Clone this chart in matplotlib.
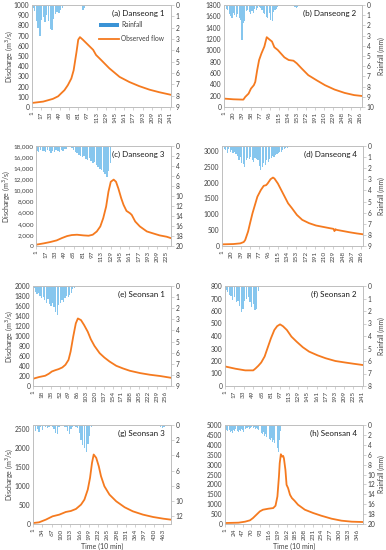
import matplotlib.pyplot as plt
from matplotlib.patches import Patch
from matplotlib.lines import Line2D

plt.rcParams["font.family"] = ["Lato", "DejaVu Sans"]

FLOW = "#F57A1F"
RAIN = "#86C6EE"
FRAME = "#BFBFBF"
TXT = "#404040"

# ---- discharge (time index, m3/s) ----
t_a = [1, 20, 37, 46, 52, 57, 63, 69, 73, 78, 81, 84, 89, 98, 107, 112, 121, 135, 153, 170, 187, 205, 222, 242]
q_a = [40, 53, 80, 105, 138, 165, 215, 280, 360, 540, 660, 685, 660, 610, 560, 510, 460, 380, 295, 245, 205, 170, 145, 120]

t_b = [1, 20, 41, 45, 52, 57, 63, 66, 70, 74, 79, 85, 90, 95, 101, 106, 113, 118, 127, 136, 146, 153, 163, 177, 194, 212, 232, 253, 273, 289]
q_b = [148, 136, 130, 178, 237, 325, 385, 444, 651, 829, 947, 1066, 1232, 1196, 1155, 1054, 1007, 960, 876, 829, 817, 770, 681, 562, 474, 385, 308, 249, 210, 195]

t_c = [1, 14, 25, 36, 45, 54, 62, 71, 82, 91, 98, 105, 111, 116, 121, 125, 129, 134, 138, 142, 147, 151, 156, 162, 165, 171, 179, 191, 202, 213, 225, 232]
q_c = [240, 480, 715, 1010, 1430, 1790, 1970, 2030, 1910, 1850, 2030, 2620, 3520, 5000, 7090, 9770, 11560, 11950, 11560, 10370, 8580, 7390, 6320, 5900, 5600, 4410, 3520, 2620, 2260, 1910, 1670, 1430]

t_d = [1, 24, 38, 45, 48, 54, 58, 63, 68, 73, 80, 86, 91, 94, 100, 105, 108, 115, 122, 129, 136, 144, 154, 165, 179, 193, 207, 221, 229, 231, 233, 235, 249, 263, 277, 289]
q_d = [52, 62, 83, 125, 187, 458, 719, 1031, 1292, 1552, 1760, 1896, 1917, 1969, 2104, 2156, 2125, 1969, 1760, 1552, 1344, 1188, 979, 823, 719, 646, 604, 562, 540, 470, 530, 510, 470, 430, 395, 370]

t_e = [1, 12, 24, 31, 37, 44, 50, 57, 63, 69, 73, 78, 83, 87, 93, 99, 106, 112, 119, 129, 138, 148, 161, 174, 187, 207, 226, 246, 266]
q_e = [146, 179, 205, 245, 291, 318, 338, 371, 424, 523, 689, 987, 1252, 1351, 1318, 1219, 1086, 934, 801, 656, 570, 490, 404, 351, 305, 258, 225, 199, 165]

t_f = [1, 19, 36, 50, 54, 59, 64, 70, 75, 81, 87, 92, 97, 102, 109, 117, 126, 137, 148, 163, 177, 194, 211, 226, 242]
q_f = [156, 138, 125, 125, 140, 162, 188, 236, 302, 381, 448, 479, 493, 479, 448, 395, 355, 310, 275, 245, 222, 200, 188, 178, 168]

t_g = [1, 22, 46, 70, 94, 117, 135, 153, 171, 183, 195, 203, 210, 216, 225, 234, 242, 254, 272, 296, 326, 355, 391, 427, 463, 490]
q_g = [26, 44, 114, 202, 246, 316, 342, 395, 509, 640, 904, 1211, 1605, 1825, 1737, 1518, 1254, 991, 772, 596, 439, 333, 246, 184, 140, 114]

t_h = [1, 36, 53, 66, 74, 83, 92, 100, 114, 127, 133, 138, 142, 144, 147, 150, 153, 155, 159, 162, 166, 171, 176, 183, 192, 210, 232, 253, 280, 306, 333, 362]
q_h = [50, 67, 117, 185, 302, 470, 638, 721, 772, 805, 923, 1393, 2399, 3070, 3523, 3406, 3440, 3322, 2735, 1980, 1812, 1477, 1309, 1174, 973, 721, 554, 419, 268, 168, 117, 100]

# ---- rainfall (mm), sampled every few time steps ----
rt_a = list(range(1, 92, 3))
r_a = [0.3, 0.5, 1.4, 2.0, 2.7, 1.3, 1.1, 1.5, 0.9, 1.4, 2.1, 2.2, 1.2, 0.8, 0.6, 0.7, 0.4, 0.3, 0.1,
       0, 0, 0, 0, 0, 0, 0, 0, 0, 0, 0.4, 0.3]

rt_b = list(range(1, 113, 3)) + [148, 151, 154]
r_b = [0.2, 0.4, 0.5, 0.9, 1.1, 1.3, 0.8, 1.0, 1.2, 0.9, 1.3, 1.5, 3.4, 1.8, 1.6, 0.6, 0.5, 0.7, 0.9,
       0.6, 0.8, 0.4, 0.5, 0.3, 0.2, 0.3, 0.5, 0.8, 0.9, 1.2, 1.3, 0.8, 1.5, 1.6, 0.7, 0.5, 0.4, 0.2,
       0.2, 0.3, 0.2]

rt_c = list(range(1, 128, 3))
r_c = [1.0, 1.2, 0.8, 1.1, 1.0, 1.3, 0.9, 1.1, 1.4, 1.0, 1.2, 0.8, 1.0, 1.3, 0.9, 1.1, 0.7, 0.6, 0.3,
       0.2, 0.4, 0.8, 1.2, 1.5, 1.8, 2.0, 2.2, 2.0, 2.6, 2.8, 2.5, 3.0, 3.4, 3.2, 3.8, 4.2, 4.6, 4.8,
       5.2, 5.6, 6.3, 5.0, 3.5]

rt_d = list(range(1, 143, 3))
r_d = [0.5, 0.3, 0.4, 0.6, 0.3, 0.5, 0.4, 0.6, 0.5, 0.7, 0.9, 1.3, 1.0, 1.5, 1.6, 1.9, 1.3, 1.1, 1.2,
       1.0, 1.3, 1.4, 1.1, 1.2, 1.3, 1.8, 2.2, 1.9, 1.5, 1.7, 1.3, 1.4, 1.2, 1.1, 0.9, 1.0, 0.8, 0.7,
       0.6, 0.5, 0.5, 0.4, 0.3, 0.2, 0.2, 0.1, 0.1, 0.1]

rt_e = list(range(1, 80, 3))
r_e = [0.2, 0.5, 0.7, 0.6, 0.9, 1.1, 1.0, 1.3, 1.5, 1.2, 1.6, 1.8, 1.5, 1.9, 2.3, 2.6, 1.7, 1.5, 1.3,
       1.4, 1.1, 0.9, 1.0, 0.8, 0.6, 0.3, 0.2]

rt_f = list(range(1, 59, 3))
r_f = [0.3, 0.5, 0.7, 0.8, 1.1, 0.9, 1.3, 1.2, 1.6, 2.1, 1.8, 1.2, 1.0, 0.9, 1.3, 1.7, 1.4, 1.9, 1.8, 0.4]

rt_g = list(range(1, 206, 6)) + [451, 457, 463]
r_g = [0.4, 0.8, 0.5, 0.9, 0.3, 0.6, 0.1, 0.2, 0.4, 0.3, 0.1, 0.2, 0.5, 1.0, 1.2, 0.3, 0.1, 0.1,
       0.2, 0.3, 0.8, 1.2, 0.5, 0.2, 0.1, 0.2, 0.4, 1.0, 2.0, 2.6, 3.0, 3.6, 2.5, 1.4, 0.3,
       0.3, 0.4, 0.3]

rt_h = list(range(1, 149, 3))
r_h = [0.8, 1.1, 1.3, 1.0, 1.4, 1.2, 1.6, 1.1, 1.3, 0.9, 1.2, 1.5, 1.0, 1.3, 0.8, 1.1, 1.4, 0.9, 0.6,
       0.7, 0.5, 0.8, 0.6, 0.4, 0.7, 0.5, 0.8, 0.6, 0.9, 1.0, 1.3, 1.6, 1.9, 1.5, 2.2, 1.8, 2.5, 2.0,
       2.8, 3.1, 2.6, 3.4, 3.0, 3.7, 4.2, 4.7, 5.4, 3.0, 1.2, 0.3]

titles = ["(a) Danseong 1", "(b) Danseong 2", "(c) Danseong 3", "(d) Danseong 4",
          "(e) Seonsan 1", "(f) Seonsan 2", "(g) Seonsan 3", "(h) Seonsan 4"]

W = 386.0
H = 550.0


def rect(l, r, top, bot):
    return [l / W, 1 - bot / H, (r - l) / W, (bot - top) / H]


def draw_panel(fig, box, title, t, q, rt, r, rw, n, xstep, qlim, qstep, qtop, rlim, rstep, rtop,
               bottom_label=False, comma=False):
    ax = fig.add_axes(rect(*box))
    ax2 = ax.twinx()
    ax2.bar(rt, r, width=rw, align="edge", color=RAIN, edgecolor="none")
    ax.plot(t, q, color=FLOW, lw=1.3, solid_joinstyle="round")
    ax.set_zorder(ax2.get_zorder() + 1)
    ax.patch.set_visible(False)

    ax.set_xlim(0.5, n + 0.5)
    ax.set_xticks(list(range(1, n + 1, xstep)))
    ax.tick_params(axis="x", labelrotation=90, labelsize=4.6, length=2, width=0.5, color=FRAME,
                   pad=1.5, labelcolor=TXT)
    ax.set_ylim(0, qlim)
    yt = list(range(0, qtop + 1, qstep))
    ax.set_yticks(yt)
    if comma:
        ax.set_yticklabels([f"{v:,}" for v in yt])
    ax.tick_params(axis="y", labelsize=4.6 if comma else 4.8, length=0, pad=1.5 if comma else 2,
                   labelcolor=TXT)

    ax2.set_ylim(rlim, 0)
    ax2.set_yticks(list(range(0, rtop + 1, rstep)))
    ax2.tick_params(axis="y", labelsize=4.8, length=2, width=0.5, color=FRAME, pad=1.5, labelcolor=TXT)

    for a in (ax, ax2):
        for s in a.spines.values():
            s.set_color(FRAME)
            s.set_linewidth(0.6)

    ax.text(0.955, 0.92, title, transform=ax.transAxes, ha="right", va="center", fontsize=5.8,
            color="#1a1a1a")
    if bottom_label:
        ax.set_xlabel("Time (10 min)", fontsize=5, color=TXT, labelpad=2)
    return ax


fig = plt.figure(figsize=(3.86, 5.5), dpi=100)
fig.patch.set_facecolor("white")

ax_a = draw_panel(fig, (32, 171, 5, 107), titles[0], t_a, q_a, rt_a, r_a, 2.4, 242, 16,
                  1000, 100, 1000, 9, 1, 9)
draw_panel(fig, (224, 362, 5, 107), titles[1], t_b, q_b, rt_b, r_b, 2.4, 289, 19,
           1800, 200, 1800, 10, 1, 10)
draw_panel(fig, (36, 171, 146, 246), titles[2], t_c, q_c, rt_c, r_c, 2.4, 232, 16,
           18000, 2000, 18000, 20, 2, 20, comma=True)
draw_panel(fig, (222, 363, 146, 246), titles[3], t_d, q_d, rt_d, r_d, 2.4, 289, 19,
           3150, 500, 3000, 9, 1, 9)
draw_panel(fig, (33, 171, 286, 386), titles[4], t_e, q_e, rt_e, r_e, 2.4, 266, 17,
           2000, 200, 2000, 9, 1, 9)
draw_panel(fig, (225, 363, 286, 386), titles[5], t_f, q_f, rt_f, r_f, 2.4, 242, 16,
           800, 100, 800, 8, 1, 8)
draw_panel(fig, (33, 171, 425, 524), titles[6], t_g, q_g, rt_g, r_g, 4.8, 490, 33,
           2600, 500, 2500, 13, 2, 12, bottom_label=True)
draw_panel(fig, (225, 363, 425, 524), titles[7], t_h, q_h, rt_h, r_h, 2.4, 362, 23,
           5000, 500, 5000, 20, 2, 20, bottom_label=True)

# axis titles placed at fixed pixel columns, as in the reference
for (top, bot), lx in zip([(5, 107), (146, 246), (286, 386), (425, 524)], [9, 6, 9, 9]):
    yc = 1 - (top + bot) / 2 / H
    fig.text(lx / W, yc, "Discharge (m$^3$/s)", rotation=90, ha="center", va="center",
             fontsize=5, color=TXT)
    fig.text(381 / W, yc, "Rainfall (mm)", rotation=90, ha="center", va="center",
             fontsize=4.8, color=TXT)

handles = [Patch(facecolor="#3A93D6", edgecolor="none"), Line2D([], [], color=FLOW, lw=1.3)]
ax_a.legend(handles, ["Rainfall", "Observed flow"], loc="upper right", bbox_to_anchor=(0.98, 0.88),
            frameon=False, fontsize=4.8, handlelength=3.0, handleheight=0.6, labelspacing=1.0,
            handletextpad=0.3, borderaxespad=0.2, labelcolor=TXT)

fig.savefig("out.png", dpi=100, facecolor="white")
